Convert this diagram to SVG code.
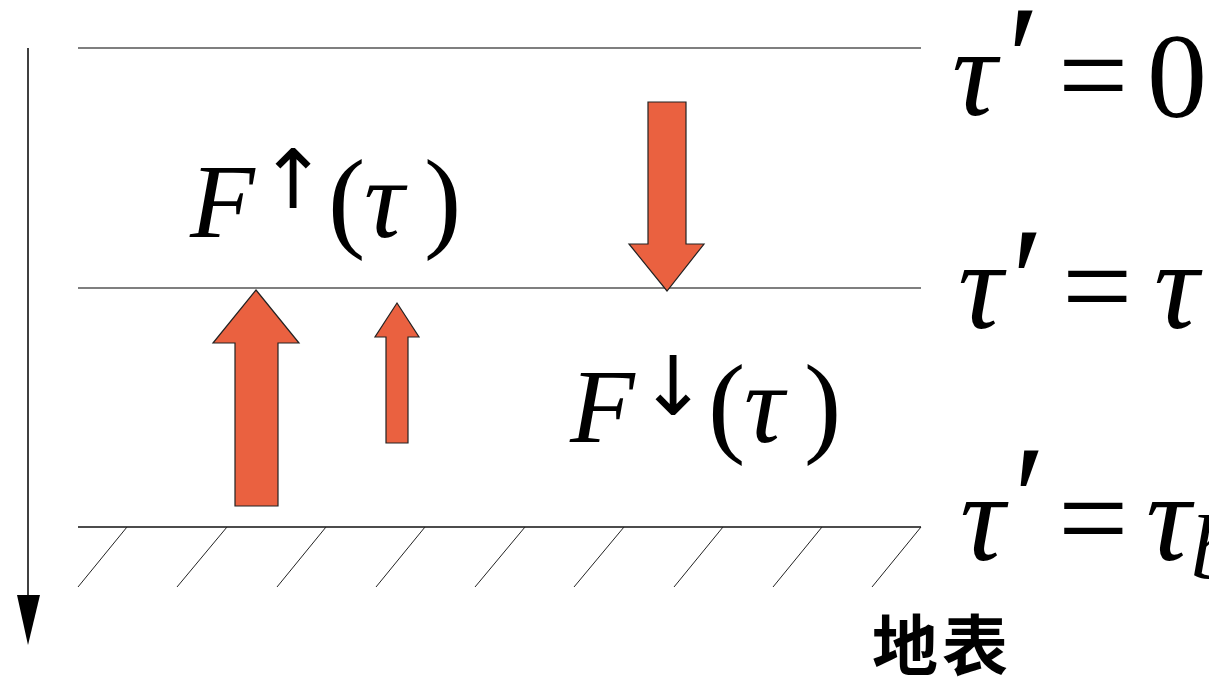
<svg xmlns="http://www.w3.org/2000/svg" width="1209" height="686" viewBox="0 0 1209 686">
<style>
.lay{stroke:#555;stroke-width:1.3;fill:none}
.gnd{stroke:#111;stroke-width:1.3;fill:none}
.hat{stroke:#222;stroke-width:1;fill:none}
.flux{fill:#EA6140;stroke:#222;stroke-width:1.2;stroke-linejoin:miter}
.m{font-family:"Liberation Serif","DejaVu Serif",serif;font-style:italic;fill:#000}
.r{font-family:"Liberation Serif","DejaVu Serif",serif;fill:#000}
.ar{font-family:"DejaVu Sans","Liberation Sans",sans-serif;fill:#000;text-anchor:middle}
.cjk{font-family:"Noto Sans CJK SC","Noto Sans CJK JP",sans-serif;font-weight:bold;fill:#000}
</style>
<rect width="1209" height="686" fill="#fff"/>
<g id="axis">
<line x1="28" y1="48" x2="28" y2="598" stroke="#000" stroke-width="1.5"/>
<polygon points="17,595 40,595 28,645" fill="#000"/>
</g>
<g id="layers">
<line class="lay" x1="78" y1="48" x2="921" y2="48"/>
<line class="lay" x1="78" y1="288" x2="921" y2="288"/>
<line class="gnd" x1="78" y1="527" x2="921" y2="527"/>
</g>
<g id="ground-hatch">
<path class="hat" d="M127,527L78,587M227,527L177,587M326,527L277,587M425,527L376,587M525,527L475,587M624,527L574,587M723,527L674,587M822,527L773,587M921,527L872,587"/>
</g>
<g id="connectors">
<polygon id="big-up" class="flux" points="256,290 299,343 278,343 278,506 235,506 235,343 213,343"/>
<polygon id="small-up" class="flux" points="397,303 419,337 408,337 408,443 386,443 386,337 375,337"/>
<polygon id="down" class="flux" points="648,102 686,102 686,244 704,244 667,291 629,244 648,244"/>
</g>
<g id="label-Fup">
<text class="m" x="190" y="237" font-size="106">F</text>
<text class="ar" x="293" y="208" font-size="82">↑</text>
<text class="r" x="328" y="237" font-size="112">(</text>
<text class="m" x="364" y="237" font-size="112">τ</text>
<text class="r" x="424" y="237" font-size="112">)</text>
</g>
<g id="label-Fdown">
<text class="m" x="570" y="442" font-size="106">F</text>
<text class="ar" x="673" y="415" font-size="82">↓</text>
<text class="r" x="708" y="442" font-size="112">(</text>
<text class="m" x="744" y="442" font-size="112">τ</text>
<text class="r" x="804" y="442" font-size="112">)</text>
</g>
<g id="label-top">
<text class="m" x="952" y="115" font-size="125">τ</text>
<text class="m" x="998" y="109" font-size="150">′</text>
<text class="r" x="1058" y="117" font-size="125">=</text>
<text class="r" x="1147" y="117" font-size="120">0</text>
</g>
<g id="label-mid">
<text class="m" x="958" y="328" font-size="125">τ</text>
<text class="m" x="1002" y="331" font-size="150">′</text>
<text class="r" x="1062" y="328" font-size="125">=</text>
<text class="m" x="1154" y="328" font-size="125">τ</text>
</g>
<g id="label-bottom">
<text class="m" x="960" y="560" font-size="125">τ</text>
<text class="m" x="1004" y="549" font-size="150">′</text>
<text class="r" x="1058" y="560" font-size="125">=</text>
<text class="m" x="1146" y="560" font-size="125">τ<tspan font-size="90" dy="18">b</tspan></text>
</g>
<g id="label-ground">
<text class="cjk" x="872" y="670" font-size="66" letter-spacing="4">地表</text>
</g>
</svg>
